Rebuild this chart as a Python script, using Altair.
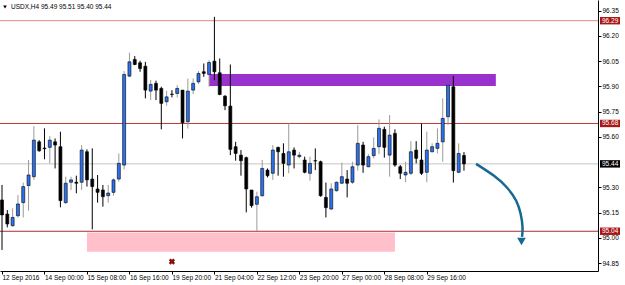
import altair as alt
import pandas as pd

# ---------------- data ----------------
opens = [95.226, 95.142, 95.073, 95.132, 95.210, 95.311, 95.364, 95.571, 95.534, 95.538,
         95.571, 95.542, 95.210, 95.331, 95.331, 95.331, 95.512, 95.350, 95.291, 95.285,
         95.251, 95.271, 95.350, 95.433, 95.961, 96.060, 96.040, 96.020, 95.872, 95.918,
         95.888, 95.809, 95.854, 95.858, 95.878, 95.690, 95.878, 95.927, 95.987, 95.971,
         96.050, 95.981, 95.842, 95.783, 95.542, 95.492, 95.477, 95.285, 95.200, 95.251,
         95.403, 95.384, 95.538, 95.502, 95.433, 95.522, 95.483, 95.463, 95.384, 95.459,
         95.453, 95.241, 95.172, 95.281, 95.325, 95.350, 95.331, 95.433, 95.552, 95.423,
         95.489, 95.542, 95.645, 95.492, 95.621, 95.423, 95.374, 95.384, 95.522, 95.463,
         95.390, 95.512, 95.532, 95.571, 95.720, 95.898, 95.390, 95.49]
highs = [95.315, 95.166, 95.176, 95.255, 95.329, 95.463, 95.664, 95.581, 95.651, 95.605,
         95.591, 95.631, 95.364, 95.364, 95.370, 95.552, 95.526, 95.532, 95.374, 95.315,
         95.315, 95.354, 95.502, 95.991, 96.100, 96.080, 96.052, 96.046, 95.938, 95.934,
         95.898, 95.874, 95.878, 95.908, 95.878, 95.947, 95.947, 95.991, 96.036, 96.056,
         96.313, 96.066, 95.848, 96.030, 95.571, 95.522, 95.483, 95.285, 95.275, 95.463,
         95.413, 95.552, 95.542, 95.562, 95.680, 95.538, 95.512, 95.483, 95.483, 95.532,
         95.459, 95.329, 95.325, 95.335, 95.447, 95.403, 95.453, 95.670, 95.571, 95.498,
         95.597, 95.704, 95.661, 95.730, 95.645, 95.433, 95.453, 95.575, 95.575, 95.680,
         95.631, 95.562, 95.651, 95.829, 95.914, 95.961, 95.562, 95.51]
lows = [94.929, 95.063, 95.067, 95.122, 95.122, 95.162, 95.345, 95.512, 95.467, 95.443,
        95.413, 95.182, 95.202, 95.285, 95.265, 95.285, 95.305, 95.051, 95.210, 95.186,
        95.210, 95.251, 95.335, 95.407, 95.957, 96.026, 95.987, 95.829, 95.819, 95.819,
        95.645, 95.785, 95.835, 95.835, 95.591, 95.650, 95.854, 95.914, 95.957, 95.898,
        95.937, 95.848, 95.759, 95.492, 95.459, 95.370, 95.152, 95.180, 95.042, 95.245,
        95.360, 95.345, 95.370, 95.364, 95.384, 95.413, 95.473, 95.384, 95.340, 95.403,
        95.245, 95.122, 95.166, 95.275, 95.321, 95.241, 95.321, 95.400, 95.387, 95.420,
        95.473, 95.498, 95.477, 95.364, 95.423, 95.350, 95.331, 95.374, 95.443, 95.374,
        95.331, 95.508, 95.502, 95.453, 95.670, 95.329, 95.384, 95.40]
closes = [95.137, 95.083, 95.122, 95.202, 95.305, 95.374, 95.581, 95.518, 95.530, 95.581,
          95.552, 95.222, 95.325, 95.345, 95.325, 95.522, 95.345, 95.305, 95.271, 95.245,
          95.267, 95.345, 95.443, 95.971, 96.046, 96.030, 96.006, 95.878, 95.912, 95.878,
          95.799, 95.838, 95.852, 95.888, 95.684, 95.872, 95.918, 95.977, 95.977, 96.042,
          95.987, 95.852, 95.785, 95.526, 95.502, 95.459, 95.291, 95.192, 95.245, 95.413,
          95.370, 95.522, 95.512, 95.443, 95.512, 95.492, 95.492, 95.390, 95.443, 95.457,
          95.251, 95.180, 95.291, 95.331, 95.364, 95.325, 95.423, 95.562, 95.433, 95.483,
          95.532, 95.651, 95.538, 95.611, 95.433, 95.384, 95.390, 95.512, 95.473, 95.384,
          95.522, 95.542, 95.562, 95.710, 95.908, 95.400, 95.502, 95.44]

tick_idx = [0, 8, 16, 24, 32, 40, 48, 56, 64, 72, 80]
tick_labels = ["12 Sep 2016", "14 Sep 00:00", "15 Sep 08:00", "16 Sep 16:00", "19 Sep 20:00",
               "21 Sep 04:00", "22 Sep 12:00", "23 Sep 20:00", "27 Sep 00:00", "28 Sep 08:00",
               "29 Sep 16:00"]
y_ticks = [94.85, 95.00, 95.15, 95.30, 95.60, 95.75, 95.90, 96.05, 96.20, 96.35]

level_values = [96.29, 95.68, 95.44, 95.04]
level_colors = ["#e58585", "#b83a3a", "#c4c4c4", "#a82c2c"]
tag_colors = ["#a81818", "#a81818", "#000000", "#a81818"]

zone_x1 = [39, 16]
zone_x2 = [93, 74]
zone_top = [95.974, 95.032]
zone_bot = [95.903, 94.919]
zone_colors = ["#9932cc", "#ffc0cb"]

arrow_i = [89.27, 92.84, 95.29, 96.99, 97.74, 98.12, 97.93]
arrow_v = [95.440, 95.369, 95.298, 95.221, 95.143, 95.060, 95.007]
arrow_head_i = [97.83]
arrow_head_v = [94.979]

cross_i = [32]
cross_v = [94.860]

title_text = "USDX,H4  95.49 95.51 95.40 95.44"

# ---------------- chart ----------------
FONT = "Liberation Sans"
FS = 6.5
BULL = "#2c72ee"
BULL_WICK = "#9a9a9a"
BEAR = "#000000"

candles = pd.DataFrame({"i": list(range(len(opens))), "open": opens, "high": highs,
                        "low": lows, "close": closes})

xs = alt.Scale(domain=[-0.377, 112.24], nice=False, zero=False, padding=0)
ys = alt.Scale(domain=[94.804, 96.413], nice=False, zero=False, padding=0)

label_arr = "[" + ",".join("'%s'" % t for t in tick_labels) + "]"
xaxis = alt.Axis(values=tick_idx, labelExpr=label_arr + "[round(datum.value/8)]",
                 labelAlign="left", labelBaseline="top", labelPadding=0, tickSize=3,
                 domainColor="#000", tickColor="#000", labelColor="#000",
                 labelFont=FONT, labelFontSize=FS, grid=False, title=None,
                 labelOverlap=False, labelFlush=False)
yaxis = alt.Axis(orient="right", values=y_ticks, format=".2f", tickSize=3, labelPadding=1,
                 domainColor="#000", tickColor="#000", labelColor="#000",
                 labelFont=FONT, labelFontSize=FS, grid=False, title=None,
                 labelOverlap=False, labelFlush=False)


def X(f):
    return alt.X(f, scale=xs, axis=xaxis)


def Y(f):
    return alt.Y(f, scale=ys, axis=yaxis)


is_bull = "datum.close > datum.open"

zones = alt.Chart(pd.DataFrame({"x1": zone_x1, "x2": zone_x2, "top": zone_top,
                                "bot": zone_bot, "c": zone_colors})).mark_rect().encode(
    x=X("x1:Q"), x2="x2:Q", y=Y("top:Q"), y2="bot:Q",
    color=alt.Color("c:N", scale=None))

levels_df = pd.DataFrame({"v": level_values, "c": level_colors, "tc": tag_colors,
                          "lab": ["%.2f" % v for v in level_values]})
levels = alt.Chart(levels_df).mark_rule(strokeWidth=1).encode(
    y=Y("v:Q"), x=alt.value(0), x2=alt.value(598),
    color=alt.Color("c:N", scale=None))

wicks = alt.Chart(candles).mark_rule(strokeWidth=1).encode(
    x=X("i:Q"), y=Y("low:Q"), y2="high:Q",
    color=alt.condition(is_bull, alt.value(BULL_WICK), alt.value(BEAR)))

bodies = alt.Chart(candles).mark_bar(size=3, stroke="#000", strokeWidth=0.6).encode(
    x=X("i:Q"), y=Y("open:Q"), y2="close:Q",
    color=alt.condition(is_bull, alt.value(BULL), alt.value(BEAR)))

arrow = alt.Chart(pd.DataFrame({"i": arrow_i, "v": arrow_v, "o": list(range(len(arrow_i)))})).mark_line(
    color="#17698f", strokeWidth=2.5, interpolate="basis").encode(
    x=X("i:Q"), y=Y("v:Q"), order="o:Q")

head = alt.Chart(pd.DataFrame({"i": arrow_head_i, "v": arrow_head_v})).mark_point(
    shape="triangle-down", filled=True, color="#17698f", opacity=1, size=75).encode(
    x=X("i:Q"), y=Y("v:Q"))

cross = alt.Chart(pd.DataFrame({"i": cross_i, "v": cross_v})).mark_point(
    shape="cross", angle=45, filled=True, color="#8b0a0a", opacity=1, size=40).encode(
    x=X("i:Q"), y=Y("v:Q"))

tag_df = levels_df.copy()
tag_df["top"] = [v + 0.022 for v in level_values]
tag_df["bot"] = [v - 0.022 for v in level_values]
tags = alt.Chart(tag_df).mark_rect().encode(
    x=alt.value(600), x2=alt.value(620), y=Y("top:Q"), y2="bot:Q",
    color=alt.Color("tc:N", scale=None))
tag_text = alt.Chart(tag_df).mark_text(align="left", baseline="middle", font=FONT,
                                       fontSize=FS, color="#fff").encode(
    x=alt.value(602), y=Y("v:Q"), text="lab:N")

title_df = pd.DataFrame({"t": [title_text]})
title_tri = alt.Chart(title_df).mark_point(shape="triangle-down", filled=True, color="#000",
                                           opacity=1, size=14).encode(
    x=alt.value(5), y=alt.value(7))
title = alt.Chart(title_df).mark_text(align="left", baseline="middle", font=FONT,
                                      fontSize=FS, color="#000").encode(
    x=alt.value(11), y=alt.value(7), text="t:N")

chart = alt.layer(zones, levels, wicks, bodies, arrow, head, cross, tags, tag_text,
                  title_tri, title).properties(
    width=598, height=271, autosize="none",
    padding={"left": 0, "top": 0, "right": 27, "bottom": 14},
    background="#ffffff"
).configure_view(stroke=None)

chart.save("out.html", embed_options={"renderer": "svg", "actions": False})
